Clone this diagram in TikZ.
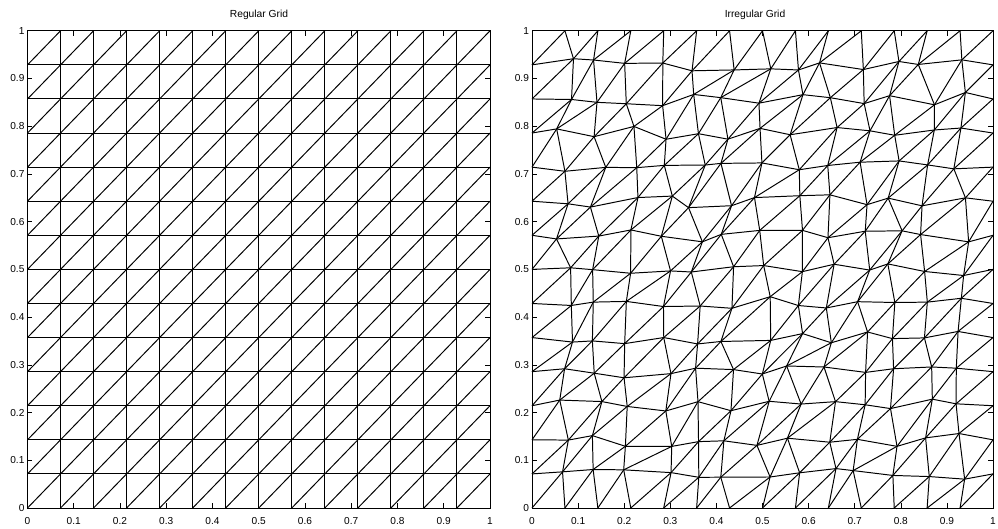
\documentclass[tikz,border=0pt]{standalone}
\usepackage{fontspec}
\setmainfont{Liberation Sans}
\begin{document}
\begin{tikzpicture}[x=0.25mm,y=0.25mm]
    % looks shared by both panels
    \tikzset{meshline/.style={line width=0.7pt,black},
      axisbox/.style={line width=0.7pt,black},
      tickmark/.style={line width=0.4pt,black},
      ticklabel/.style={font=\fontsize{7.2}{8}\selectfont,inner sep=0pt},
      paneltitle/.style={font=\fontsize{7.3}{9}\selectfont,inner sep=0pt}}
    \useasboundingbox (0,0) rectangle (998,529);

    \node[paneltitle] (title-reg) at (259,514) {Regular Grid};
    \node[paneltitle] (title-irr) at (755,514) {Irregular Grid};

    % left panel: regular mesh
    \begin{scope}[shift={(27.5,21)},x=115.625mm,y=119.3mm]
      \foreach \i in {0,...,14}{
        \foreach \j in {0,...,14}{
          \coordinate (r-\i-\j) at (\i/14,\j/14);
        }
      }
      \foreach \i [evaluate=\i as \ni using int(\i+1)] in {0,...,13}{
        \foreach \j [evaluate=\j as \nj using int(\j+1)] in {0,...,13}{
          \draw[meshline] (r-\i-\j) -- (r-\ni-\j);
          \draw[meshline] (r-\i-\j) -- (r-\i-\nj);
          \draw[meshline] (r-\i-\j) -- (r-\ni-\nj);
        }
        \draw[meshline] (r-\i-14) -- (r-\ni-14);
        \draw[meshline] (r-14-\i) -- (r-14-\ni);
      }
      \draw[axisbox] (r-0-0) rectangle (r-14-14);
      \foreach \k/\lab in {0/0,1/0.1,2/0.2,3/0.3,4/0.4,5/0.5,6/0.6,7/0.7,8/0.8,9/0.9,10/1}{
        \draw[tickmark] (\k/10,0) -- ++(0,0.01) (\k/10,1) -- ++(0,-0.01);
        \draw[tickmark] (0,\k/10) -- ++(0.01,0) (1,\k/10) -- ++(-0.01,0);
        \node[ticklabel] (rx-\k) at (\k/10,0) [yshift=-3.2mm] {\lab};
        \node[ticklabel,anchor=east] (ry-\k) at (0,\k/10) [xshift=-0.7mm] {\lab};
      }
    \end{scope}

    % right panel: jittered interior nodes, same connectivity
    \pgfmathsetseed{4711}
    \begin{scope}[shift={(532,21)},x=115.25mm,y=119.3mm]
      \foreach \i in {0,...,14}{
        \foreach \j in {0,...,14}{
          \pgfmathsetmacro\dx{(\i>0)*(\i<14)*(\j>0)*(\j<14)*0.27*rand}
          \pgfmathsetmacro\dy{(\i>0)*(\i<14)*(\j>0)*(\j<14)*0.2*rand}
          \coordinate (q-\i-\j) at ({(\i+\dx)/14},{(\j+\dy)/14});
        }
      }
      \foreach \i [evaluate=\i as \ni using int(\i+1)] in {0,...,13}{
        \foreach \j [evaluate=\j as \nj using int(\j+1)] in {0,...,13}{
          \draw[meshline] (q-\i-\j) -- (q-\ni-\j);
          \draw[meshline] (q-\i-\j) -- (q-\i-\nj);
          \draw[meshline] (q-\i-\j) -- (q-\ni-\nj);
        }
        \draw[meshline] (q-\i-14) -- (q-\ni-14);
        \draw[meshline] (q-14-\i) -- (q-14-\ni);
      }
      \draw[axisbox] (q-0-0) rectangle (q-14-14);
      \foreach \k/\lab in {0/0,1/0.1,2/0.2,3/0.3,4/0.4,5/0.5,6/0.6,7/0.7,8/0.8,9/0.9,10/1}{
        \draw[tickmark] (\k/10,0) -- ++(0,0.01) (\k/10,1) -- ++(0,-0.01);
        \draw[tickmark] (0,\k/10) -- ++(0.01,0) (1,\k/10) -- ++(-0.01,0);
        \node[ticklabel] (qx-\k) at (\k/10,0) [yshift=-3.2mm] {\lab};
        \node[ticklabel,anchor=east] (qy-\k) at (0,\k/10) [xshift=-0.7mm] {\lab};
      }
    \end{scope}
  \end{tikzpicture}
\end{document}
